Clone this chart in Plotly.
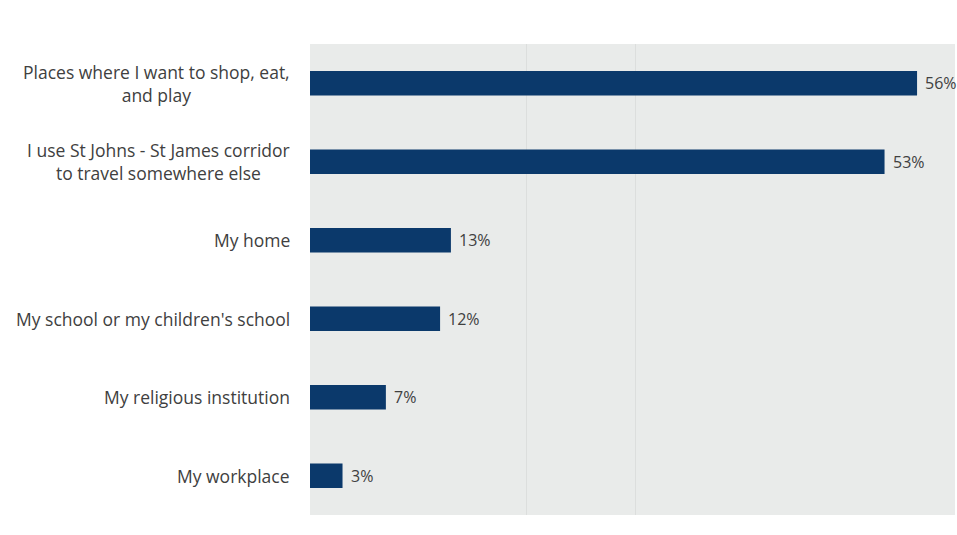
import plotly.graph_objects as go

categories = [
    "Places where I want to shop, eat,<br>and play",
    "I use St Johns - St James corridor<br>to travel somewhere else",
    "My home",
    "My school or my children's school",
    "My religious institution",
    "My workplace",
]
values = [56, 53, 13, 12, 7, 3]
value_labels = [f"{v}%" for v in values]

bar_color = "#0b396b"
text_color = "#404040"
font_family = "Open Sans, Lato, sans-serif"

fig = go.Figure(
    go.Bar(
        y=categories,
        x=values,
        orientation="h",
        marker=dict(color=bar_color, line=dict(width=0)),
        cliponaxis=False,
    )
)

# Category labels drawn as centred multi-line annotations left of the axis
for cat in categories:
    fig.add_annotation(
        x=0, xref="paper", xanchor="right", xshift=-18,
        y=cat, yref="y", yanchor="middle",
        text=cat, showarrow=False, align="center",
        font=dict(size=17.5, color=text_color, family=font_family),
    )

# Value labels just past the end of each bar
for cat, v, lab in zip(categories, values, value_labels):
    fig.add_annotation(
        x=v, xref="x", xanchor="left", xshift=6,
        y=cat, yref="y", yanchor="middle",
        text=lab, showarrow=False,
        font=dict(size=16, color=text_color, family=font_family),
    )

fig.update_layout(
    width=957,
    height=535,
    margin=dict(l=310, r=2, t=44, b=20),
    paper_bgcolor="white",
    plot_bgcolor="#e9ebea",
    bargap=0.69,
    showlegend=False,
    xaxis=dict(
        range=[0, 59.5],
        tickvals=[20, 30],
        showticklabels=False,
        showgrid=True,
        gridcolor="#dcdedd",
        gridwidth=1,
        zeroline=False,
        showline=False,
    ),
    yaxis=dict(
        categoryorder="array",
        categoryarray=categories[::-1],
        showticklabels=False,
        showgrid=False,
        zeroline=False,
        showline=False,
    ),
)

fig.write_html("out.html")
